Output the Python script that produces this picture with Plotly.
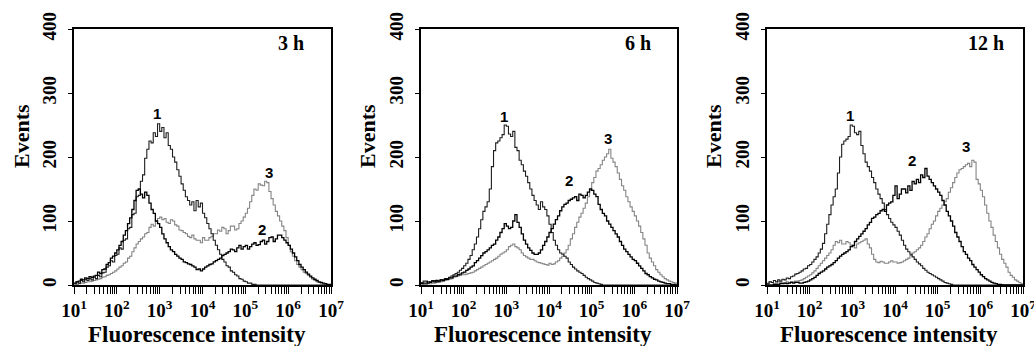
import plotly.graph_objects as go

# bin centres: log10 exponents 1.00 .. 7.00 in steps of 0.05 (121 bins)
log_bins = [round(1 + 0.05 * i, 2) for i in range(121)]
intensity = [10 ** e for e in log_bins]

panels = ["3 h", "6 h", "12 h"]

# ---- 3 h ----  (each row = half a decade, 10 bins)
h3_c1 = [2, 5, 3, 7, 5, 9, 7, 10, 8, 12,
         10, 15, 13, 19, 20, 28, 30, 38, 36, 46,
         48, 58, 56, 70, 72, 88, 90, 110, 112, 138,
         140, 162, 172, 198, 212, 225, 222, 238, 232, 252,
         240, 246, 230, 238, 218, 212, 200, 192, 180, 170,
         158, 148, 138, 132, 125, 130, 116, 132, 122, 128,
         112, 105, 96, 88, 80, 70, 62, 55, 48, 40,
         36, 30, 28, 22, 20, 16, 14, 10, 9, 6,
         5, 3, 3, 1, 1, 0, 0, 0, 0, 0,
         0, 0, 0, 0, 0, 0, 0, 0, 0, 0,
         0, 0, 0, 0, 0, 0, 0, 0, 0, 0,
         0, 0, 0, 0, 0, 0, 0, 0, 0, 0,
         0]
h3_c2 = [3, 5, 6, 9, 8, 11, 10, 13, 12, 14,
         15, 20, 18, 24, 25, 32, 35, 42, 45, 50,
         55, 62, 68, 78, 85, 96, 105, 118, 132, 148,
         150, 142, 136, 145, 140, 128, 118, 112, 100, 96,
         90, 80, 72, 66, 60, 55, 52, 48, 45, 42,
         40, 36, 35, 33, 32, 30, 28, 24, 25, 22,
         25, 28, 30, 32, 33, 36, 38, 40, 42, 46,
         48, 50, 52, 56, 55, 52, 58, 62, 56, 60,
         62, 56, 60, 64, 66, 62, 63, 68, 70, 64,
         68, 74, 75, 68, 72, 78, 78, 74, 70, 66,
         62, 56, 50, 44, 38, 32, 28, 24, 20, 17,
         14, 11, 9, 7, 5, 4, 3, 2, 1, 1,
         0]
h3_c3 = [0, 1, 2, 3, 3, 4, 5, 5, 6, 7,
         8, 9, 10, 12, 13, 15, 16, 18, 20, 22,
         25, 28, 30, 34, 36, 42, 45, 52, 58, 64,
         68, 72, 75, 80, 82, 90, 95, 92, 100, 104,
         106, 102, 104, 98, 96, 102, 100, 94, 92, 86,
         85, 82, 80, 76, 74, 78, 72, 70, 70, 66,
         74, 70, 70, 74, 76, 80, 80, 86, 84, 90,
         88, 80, 85, 92, 92, 86, 88, 96, 100, 106,
         112, 120, 130, 140, 150, 148, 158, 156, 155, 162,
         160, 146, 135, 125, 115, 108, 100, 92, 85, 74,
         62, 52, 45, 38, 32, 28, 24, 20, 18, 15,
         12, 9, 7, 5, 4, 2, 1, 1, 0, 0,
         0]

# ---- 6 h ----
h6_c1 = [4, 6, 6, 3, 5, 7, 7, 5, 6, 8,
         8, 10, 10, 12, 14, 16, 18, 20, 23, 26,
         30, 34, 40, 46, 55, 64, 75, 88, 102, 115,
         122, 130, 150, 185, 210, 222, 225, 230, 235, 250,
         248, 236, 232, 240, 215, 210, 195, 188, 178, 170,
         160, 150, 140, 132, 125, 118, 130, 122, 118, 108,
         95, 82, 70, 62, 55, 50, 48, 45, 42, 36,
         32, 28, 25, 22, 20, 18, 15, 12, 10, 8,
         6, 4, 3, 2, 1, 0, 0, 0, 0, 0,
         0, 0, 0, 0, 0, 0, 0, 0, 0, 0,
         0, 0, 0, 0, 0, 0, 0, 0, 0, 0,
         0, 0, 0, 0, 0, 0, 0, 0, 0, 0,
         0]
h6_c2 = [2, 3, 3, 5, 4, 6, 5, 7, 6, 8,
         7, 9, 9, 11, 11, 14, 14, 16, 17, 19,
         20, 23, 25, 28, 30, 35, 38, 42, 46, 50,
         52, 55, 58, 62, 64, 70, 75, 82, 88, 96,
         92, 88, 90, 100, 110, 98, 90, 80, 70, 64,
         58, 54, 50, 48, 48, 50, 55, 62, 68, 75,
         82, 88, 95, 102, 108, 116, 122, 126, 128, 132,
         134, 136, 138, 132, 142, 140, 136, 140, 145, 150,
         148, 142, 138, 126, 118, 112, 108, 100, 95, 90,
         85, 80, 75, 68, 62, 56, 52, 48, 44, 40,
         38, 34, 30, 26, 22, 18, 16, 13, 11, 9,
         8, 6, 5, 4, 3, 2, 2, 1, 1, 0,
         0]
h6_c3 = [0, 1, 1, 2, 2, 3, 3, 4, 4, 5,
         6, 7, 8, 9, 10, 12, 13, 14, 15, 16,
         16, 17, 18, 19, 20, 22, 24, 26, 28, 30,
         32, 34, 36, 38, 40, 42, 45, 48, 50, 52,
         55, 60, 62, 64, 60, 58, 55, 50, 46, 44,
         42, 40, 40, 38, 36, 35, 34, 33, 32, 31,
         34, 32, 33, 36, 38, 42, 45, 50, 55, 62,
         72, 80, 90, 98, 106, 112, 120, 128, 138, 148,
         160, 168, 178, 182, 188, 195, 200, 205, 212, 198,
         192, 185, 175, 165, 155, 148, 138, 130, 122, 115,
         108, 100, 92, 82, 72, 62, 50, 42, 36, 30,
         24, 20, 16, 13, 10, 8, 6, 5, 4, 3,
         2]

# ---- 12 h ----
h12_c1 = [2, 5, 4, 7, 5, 8, 6, 9, 8, 11,
          10, 13, 14, 17, 18, 20, 22, 25, 26, 30,
          32, 36, 40, 44, 50, 56, 65, 80, 95, 110,
          125, 138, 150, 175, 200, 220, 225, 228, 232, 250,
          248, 238, 235, 240, 218, 205, 192, 185, 178, 168,
          160, 150, 142, 135, 128, 118, 110, 104, 98, 94,
          90, 84, 78, 70, 62, 56, 52, 48, 44, 40,
          36, 33, 30, 26, 23, 20, 18, 16, 14, 12,
          10, 8, 6, 4, 3, 2, 1, 0, 0, 0,
          0, 0, 0, 0, 0, 0, 0, 0, 0, 0,
          0, 0, 0, 0, 0, 0, 0, 0, 0, 0,
          0, 0, 0, 0, 0, 0, 0, 0, 0, 0,
          0]
h12_c2 = [0, 0, 0, 1, 1, 1, 2, 2, 3, 2,
          3, 4, 3, 4, 4, 3, 3, 4, 5, 6,
          8, 10, 12, 15, 18, 20, 22, 25, 28, 30,
          32, 35, 38, 42, 45, 48, 50, 52, 55, 60,
          62, 68, 72, 76, 80, 84, 88, 94, 98, 104,
          106, 110, 112, 116, 118, 115, 125, 128, 130, 140,
          155, 135, 142, 150, 150, 144, 155, 148, 162, 158,
          165, 160, 172, 168, 182, 170, 165, 160, 155, 150,
          145, 140, 132, 125, 115, 108, 100, 92, 82, 75,
          68, 60, 52, 48, 42, 38, 32, 28, 24, 20,
          16, 13, 10, 8, 6, 4, 3, 2, 1, 1,
          0, 0, 0, 0, 0, 0, 0, 0, 0, 0,
          0]
h12_c3 = [3, 5, 4, 2, 3, 5, 4, 3, 3, 5,
          4, 5, 5, 6, 6, 7, 8, 10, 12, 14,
          16, 19, 22, 26, 30, 34, 38, 42, 46, 50,
          55, 62, 68, 66, 70, 64, 64, 68, 66, 62,
          60, 58, 64, 66, 68, 70, 72, 64, 58, 48,
          40, 36, 35, 37, 36, 34, 34, 36, 38, 36,
          36, 34, 35, 36, 38, 40, 42, 46, 50, 52,
          55, 58, 62, 68, 75, 80, 88, 95, 100, 108,
          115, 120, 125, 130, 135, 145, 152, 160, 168, 175,
          180, 182, 185, 188, 190, 185, 195, 192, 165, 158,
          148, 138, 125, 112, 100, 90, 78, 68, 58, 48,
          40, 34, 28, 20, 15, 12, 8, 6, 4, 2,
          1]

series = [[h3_c1, h3_c2, h3_c3], [h6_c1, h6_c2, h6_c3], [h12_c1, h12_c2, h12_c3]]
for grp in series:
    for s in grp:
        assert len(s) == len(log_bins), len(s)

# peak label positions (log10 x, events)
label_names = ["1", "2", "3"]
label_pos = [
    [(2.94, 268), (5.38, 86), (5.55, 176)],
    [(2.95, 263), (4.47, 164), (5.39, 229)],
    [(2.95, 265), (4.41, 195), (5.66, 216)],
]

y_ticks = [0, 100, 200, 300, 400]
x_decades = [1, 2, 3, 4, 5, 6, 7]

W, H = 1034, 346
plot_left = [74, 421, 767]
plot_right = [331, 677, 1023]
plot_top, plot_bottom = 29, 285
title_right_gap = [25, 24, 17]
events_x = [21, 367, 713]

line_colors = ["#1e1e1e", "#000000", "#858585"]
line_widths = [1.1, 1.3, 1.1]

fig = go.Figure()

serif = "Liberation Serif"
major_vals = [10 ** d for d in x_decades]
major_text = ["10<sup>%d</sup>" % d for d in x_decades]
minor_vals = [m * 10 ** d for d in x_decades[:-1] for m in range(2, 10)]

for p in range(3):
    xa = "x" if p == 0 else "x%d" % (p + 1)
    ya = "y" if p == 0 else "y%d" % (p + 1)
    for k in [2, 0, 1]:
        fig.add_trace(go.Scatter(
            x=intensity, y=series[p][k], mode="lines",
            line=dict(color=line_colors[k], width=line_widths[k], shape="hv"),
            xaxis=xa, yaxis=ya, showlegend=False, hoverinfo="skip"))
    dom_x = [plot_left[p] / W, plot_right[p] / W]
    dom_y = [(H - plot_bottom) / H, (H - plot_top) / H]
    xkey = "xaxis" if p == 0 else "xaxis%d" % (p + 1)
    ykey = "yaxis" if p == 0 else "yaxis%d" % (p + 1)
    fig.layout[xkey] = dict(
        type="log", range=[1, 7], domain=dom_x, anchor=ya, automargin=False,
        showline=True, linecolor="black", linewidth=1.5, mirror=True,
        showgrid=False, zeroline=False, ticklabeloverflow="allow",
        tickmode="array", tickvals=major_vals, ticktext=major_text,
        ticks="outside", ticklen=7, tickwidth=1.4, tickcolor="black",
        tickfont=dict(family=serif, size=19, color="black", weight="bold"),
        minor=dict(tickmode="array", tickvals=minor_vals, ticks="outside",
                   ticklen=7, tickwidth=1.4, tickcolor="black", showgrid=False),
        fixedrange=True)
    fig.layout[ykey] = dict(
        range=[0, 400], domain=dom_y, anchor=xa, automargin=False,
        showline=True, linecolor="black", linewidth=1.5, mirror=True,
        showgrid=False, zeroline=False, ticklabeloverflow="allow",
        tickmode="array", tickvals=y_ticks, ticktext=[str(v) for v in y_ticks],
        ticks="outside", ticklen=4, tickwidth=1.4, tickcolor="black",
        tickangle=-90, ticklabelstandoff=5,
        tickfont=dict(family=serif, size=19, color="black", weight="bold"),
        fixedrange=True)

    fig.add_annotation(
        xref="paper", yref="paper",
        x=(plot_right[p] - title_right_gap[p]) / W, y=(H - 43) / H,
        text=panels[p], showarrow=False, xanchor="right", yanchor="middle",
        font=dict(family=serif, size=20, color="black", weight="bold"))
    fig.add_annotation(
        xref="paper", yref="paper",
        x=((plot_left[p] + plot_right[p]) / 2 - 6) / W, y=(H - 349) / H,
        text="Fluorescence intensity", showarrow=False, xanchor="center", yanchor="bottom",
        font=dict(family=serif, size=23, color="black", weight="bold"))
    fig.add_annotation(
        xref="paper", yref="paper",
        x=events_x[p] / W, y=(H - 136) / H, textangle=-90,
        text="Events", showarrow=False, xanchor="center", yanchor="middle",
        font=dict(family=serif, size=22, color="black", weight="bold"))
    for k in range(3):
        lx, ly = label_pos[p][k]
        fig.add_annotation(
            xref=xa, yref=ya, x=lx, y=ly, text=label_names[k], showarrow=False,
            xanchor="center", yanchor="middle",
            font=dict(family="Liberation Sans", size=15, color="black", weight="bold"))

fig.update_layout(
    width=W, height=H, margin=dict(l=0, r=0, t=0, b=0),
    paper_bgcolor="white", plot_bgcolor="white", showlegend=False)

fig.write_html("out.html", config={"displayModeBar": False},
               post_script="document.body.style.margin='0';document.body.style.overflow='hidden';")
